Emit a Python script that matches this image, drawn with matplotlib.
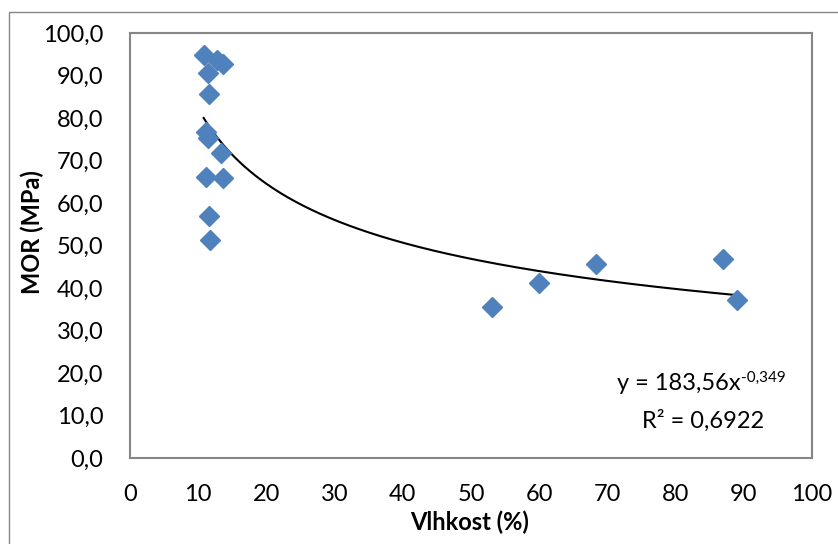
import numpy as np
import matplotlib
matplotlib.use('Agg')
import matplotlib.pyplot as plt
from matplotlib.patches import Rectangle

# moisture content (%) and MOR (MPa)
vlhkost = [10.8, 12.7, 13.6, 11.5, 11.6, 11.1, 11.4, 13.4, 11.2, 13.7, 11.6, 11.7,
           53.1, 60.0, 68.3, 86.9, 89.0]
mor = [94.8, 93.6, 92.6, 90.5, 85.6, 76.8, 75.2, 71.8, 66.2, 65.8, 56.9, 51.3,
       35.5, 41.2, 45.6, 46.8, 37.2]

# power trendline shown in the chart
coef_a = 183.56
coef_b = -0.349
r2_text = '0,6922'

x_ticks = list(range(0, 101, 10))
y_ticks = list(range(0, 101, 10))

plt.rcParams['font.family'] = ['Lato', 'DejaVu Sans']

fig = plt.figure(figsize=(8.38, 5.44), dpi=100)
ax = fig.add_axes([130 / 838, 1 - 458 / 544, 682 / 838, 425 / 544])

# outer chart border
fig.patches.append(Rectangle((8.5 / 838, -0.1), 2, 1.1 - 12.5 / 544,
                             transform=fig.transFigure, fill=False,
                             edgecolor='#868686', linewidth=1.0))

ax.plot(vlhkost, mor, linestyle='none', marker='D', markersize=10,
        color='#4F81BD', markeredgecolor='#4F81BD', zorder=3)

xs = np.linspace(min(vlhkost), max(vlhkost), 300)
ax.plot(xs, coef_a * xs ** coef_b, color='black', linewidth=1.5, zorder=2)

ax.set_xlim(0, 100)
ax.set_ylim(0, 100)
ax.set_xticks(x_ticks)
ax.set_yticks(y_ticks)
ax.set_xticklabels([str(t) for t in x_ticks])
ax.set_yticklabels([f'{t:.1f}'.replace('.', ',') for t in y_ticks])
ax.tick_params(length=0, labelsize=17)
ax.tick_params(axis='x', pad=19)
ax.tick_params(axis='y', pad=19)
for s in ax.spines.values():
    s.set_color('#868686')
    s.set_linewidth(1.5)

fig.text(32 / 838, 1 - 232 / 544, 'MOR (MPa)', rotation=90, fontsize=17,
         fontweight='bold', ha='center', va='center')
fig.text(470 / 838, 1 - 522 / 544, 'Vlhkost (%)', fontsize=17,
         fontweight='bold', ha='center', va='center')

a_str = f'{coef_a:.2f}'.replace('.', ',')
b_str = f'{coef_b:.3f}'.replace('.', ',')
t1 = fig.text(617 / 838, 1 - 383 / 544, f'y = {a_str}x', fontsize=17,
              ha='left', va='center')
ax.annotate(b_str, xy=(1, 0.75), xycoords=t1, fontsize=11,
            ha='left', va='center')
fig.text(703 / 838, 1 - 421 / 544, f'R² = {r2_text}', fontsize=17,
         ha='center', va='center')

fig.savefig('out.png', dpi=100)
